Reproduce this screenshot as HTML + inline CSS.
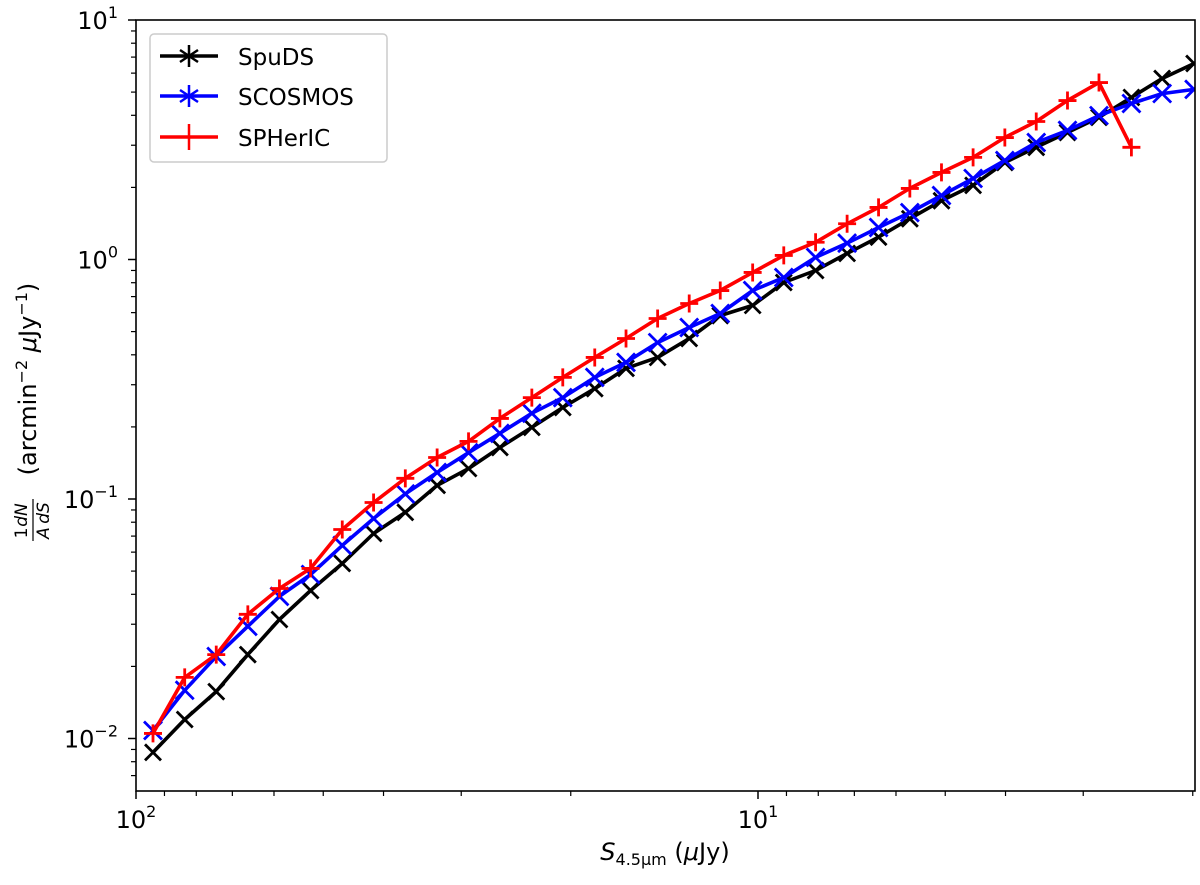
<!DOCTYPE html>
<html><head><meta charset="utf-8"><style>
html,body{margin:0;padding:0;background:#fff;}
svg{display:block;font-family:"DejaVu Sans","Liberation Sans",sans-serif;}
</style></head><body>
<svg id="chart" width="1200" height="885" viewBox="0 0 1200 885" xmlns="http://www.w3.org/2000/svg">
<g id="series"></g>
<rect x="136" y="20" width="1059" height="771" fill="none" stroke="#000" stroke-width="1.6"/>
<g id="ticks"></g>
<text x="665" y="860" font-size="24" text-anchor="middle"><tspan font-style="italic">S</tspan><tspan font-size="16" dy="5">4.5μm</tspan><tspan dy="-5"> (</tspan><tspan font-style="italic">μ</tspan><tspan>Jy)</tspan></text>
<g transform="translate(36,405) rotate(-90)">
<text x="26" y="0" font-size="24" text-anchor="middle">(arcmin<tspan font-size="16" dy="-9">−2</tspan><tspan dy="9"> </tspan><tspan font-style="italic">μ</tspan>Jy<tspan font-size="16" dy="-9">−1</tspan><tspan dy="9">)</tspan></text>
<text x="-128" y="-9" font-size="17" text-anchor="middle">1</text>
<text x="-110" y="-9" font-size="17" font-style="italic" text-anchor="middle">dN</text>
<line x1="-136" y1="-3" x2="-94" y2="-3" stroke="#000" stroke-width="1.2"/>
<text x="-128" y="13" font-size="17" font-style="italic" text-anchor="middle">A</text>
<text x="-108" y="13" font-size="17" font-style="italic" text-anchor="middle">dS</text>
</g>
<g>
<rect x="150" y="34" width="237" height="128" rx="4" fill="#fff" fill-opacity="0.85" stroke="#ccc" stroke-width="1.5"/>
<g><line x1="160" y1="56" x2="218" y2="56" stroke="#000" stroke-width="3.5"/><path d="M189 45V67M180 50L198 62M180 62L198 50" stroke="#000" stroke-width="2.5"/><text x="238" y="65" font-size="23">SpuDS</text></g>
<g><line x1="160" y1="96" x2="218" y2="96" stroke="#0000ff" stroke-width="3.5"/><path d="M189 85V107M180 90L198 102M180 102L198 90" stroke="#0000ff" stroke-width="2.5"/><text x="238" y="105" font-size="23">SCOSMOS</text></g>
<g><line x1="160" y1="137" x2="218" y2="137" stroke="#ff0000" stroke-width="3.5"/><path d="M189 124V150" stroke="#ff0000" stroke-width="2.5"/><text x="238" y="146" font-size="23">SPHerIC</text></g>
</g>
</svg>
<script>
const fluxBins=[93.9,83.5,74.3,66.1,58.8,52.4,46.6,41.5,36.9,32.8,29.2,26.0,23.1,20.6,18.3,16.3,14.5,12.9,11.5,10.2,9.09,8.08,7.19,6.40,5.70,5.07,4.51,4.01,3.57,3.18,2.83,2.51,2.24,1.99];
const spudsValues=[0.00875,0.0120,0.0157,0.0224,0.0314,0.0415,0.0538,0.0718,0.0879,0.114,0.134,0.164,0.199,0.241,0.289,0.351,0.390,0.468,0.583,0.643,0.802,0.900,1.06,1.24,1.48,1.76,2.04,2.54,2.94,3.39,3.92,4.75,5.70,6.58];
const scosmosValues=[0.0108,0.0159,0.0220,0.0294,0.0392,0.0484,0.0640,0.0829,0.105,0.129,0.156,0.188,0.228,0.265,0.322,0.372,0.450,0.520,0.595,0.742,0.841,1.02,1.17,1.36,1.57,1.85,2.18,2.59,3.08,3.46,3.99,4.48,4.93,5.13];
const sphericValues=[0.0105,0.0180,0.0224,0.0330,0.0423,0.0513,0.0746,0.0967,0.122,0.149,0.174,0.217,0.265,0.322,0.390,0.468,0.567,0.655,0.742,0.883,1.04,1.18,1.41,1.65,1.98,2.31,2.67,3.23,3.77,4.61,5.48,2.94];
const xTickLabels=["10","10"];const xTickExp=["2","1"];const xTickValues=[100,10];
const yTickValues=[10,1,0.1,0.01];const yTickExp=["1","0","−1","−2"];

const NS="http://www.w3.org/2000/svg";
function xs(v){return 136+(2-Math.log10(v))*622;}
function ys(v){return 20+(1-Math.log10(v))*239.5;}
function mk(tag,attrs,parent){const e=document.createElementNS(NS,tag);for(const k in attrs)e.setAttribute(k,attrs[k]);parent.appendChild(e);return e;}
const S=document.getElementById('series');
const clip=mk('clipPath',{id:'pc'},S);mk('rect',{x:136,y:20,width:1059,height:771},clip);
function drawSeries(vals,color,marker,name){
  const g=mk('g',{'clip-path':'url(#pc)'},S);
  
  
  let d='';vals.forEach((v,i)=>{d+=(i?'L':'M')+xs(fluxBins[i]).toFixed(1)+' '+ys(v).toFixed(1);});
  const p=mk('path',{d:d,fill:'none',stroke:color,'stroke-width':3.6,'stroke-linejoin':'round'},g);
  
  
  vals.forEach((v,i)=>{const x=xs(fluxBins[i]),y=ys(v);let md;
    if(marker==='x'){const r=color==='#0000ff'?9:8;md=`M${x-r} ${y-r}L${x+r} ${y+r}M${x-r} ${y+r}L${x+r} ${y-r}`;}
    else {md=`M${x-9} ${y}L${x+9} ${y}M${x} ${y-9}L${x} ${y+9}`;}
    const m=mk('path',{d:md,stroke:color,'stroke-width':2.8},g);
    
    
  });
}
drawSeries(spudsValues,'#000','x','spuds');
drawSeries(scosmosValues,'#0000ff','x','scosmos');
drawSeries(sphericValues,'#ff0000','+','spheric');

const T=document.getElementById('ticks');
xTickValues.forEach((v,i)=>{const x=xs(v);mk('line',{x1:x,y1:791,x2:x,y2:799,stroke:'#000','stroke-width':1.5},T);
  const t=mk('text',{x:x,y:828,'font-size':24,'text-anchor':'middle'},T);
  
  
  t.innerHTML=xTickLabels[i]+'<tspan font-size="16" dy="-11">'+xTickExp[i]+'</tspan>';});
[90,80,70,60,50,40,30,20,9,8,7,6,5,4,3,2].forEach(v=>{const x=xs(v);if(x<1195)mk('line',{x1:x,y1:791,x2:x,y2:796,stroke:'#000','stroke-width':1.2},T);});
yTickValues.forEach((v,i)=>{const y=ys(v);mk('line',{x1:128,y1:y,x2:136,y2:y,stroke:'#000','stroke-width':1.5},T);
  const t=mk('text',{x:118,y:y+9,'font-size':24,'text-anchor':'end'},T);
  
  
  t.innerHTML='10<tspan font-size="16" dy="-11">'+yTickExp[i]+'</tspan>';});
[0.001,0.01,0.1,1].forEach(b=>{for(let k=2;k<=9;k++){const y=ys(b*k);if(y>20&&y<791)mk('line',{x1:131,y1:y,x2:136,y2:y,stroke:'#000','stroke-width':1.2},T);}});
</script>
</body></html>
